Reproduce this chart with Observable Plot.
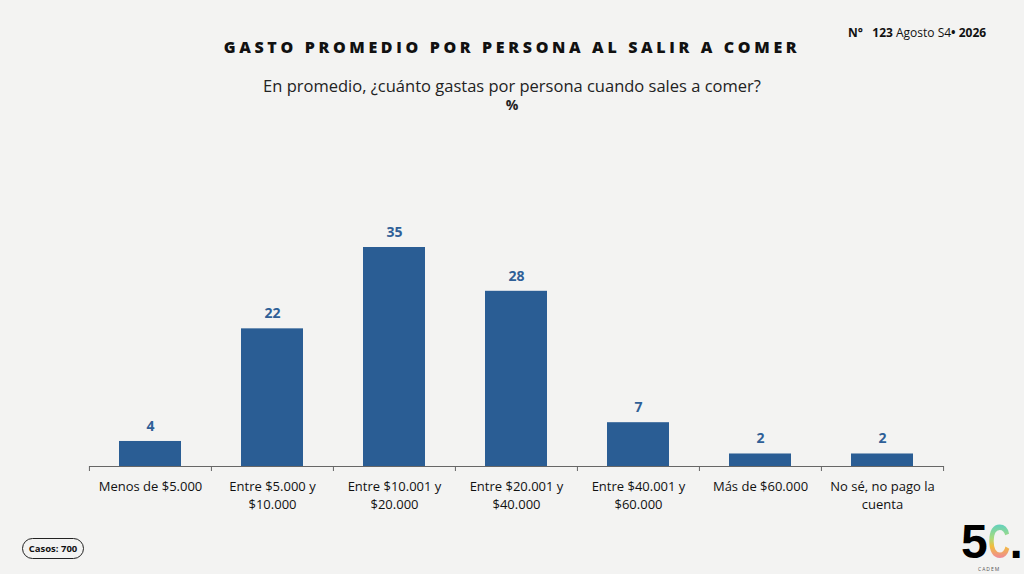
<!DOCTYPE html>
<html>
<head>
<meta charset="utf-8">
<script src="https://cdn.jsdelivr.net/npm/d3@7"></script>
<script src="https://cdn.jsdelivr.net/npm/@observablehq/plot@0.6"></script>
<style>
  html, body { margin: 0; padding: 0; background: #f3f3f2; }
  #wrap { position: relative; width: 1024px; height: 574px; overflow: hidden; font-family: "Open Sans", sans-serif; background: #f3f3f2; }
  #chart { position: absolute; left: 0; top: 0; }
  .abs { position: absolute; white-space: nowrap; }
  #title { left: 0; width: 1024px; top: 36px; text-align: center; font-weight: 800; font-size: 16px; letter-spacing: 3.65px; color: #111; }
  #sub { left: 0; width: 1024px; top: 76px; line-height: 20px; text-align: center; font-size: 16.5px; color: #222; }
  #pct { left: 0; width: 1024px; top: 97px; line-height: 15px; text-align: center; font-size: 14px; font-weight: 700; color: #222; }
  #issue { left: 848px; top: 24px; font-size: 12px; color: #111; }
  #issue b { font-weight: 700; }
  #casos { left: 22px; top: 538px; width: 60px; height: 19px; border: 1px solid #222; border-radius: 11px; font-size: 9.5px; font-weight: 700; line-height: 19px; text-align: center; color: #111; }
  #logo { left: 961px; top: 524px; font-size: 48px; font-weight: 700; line-height: 36px; height: 36px; font-family: "Liberation Sans", sans-serif; color: #000; }
  #logo .c { display: inline-block; transform: scaleX(0.64); transform-origin: left center; margin-right: -13px; background: linear-gradient(180deg, #5fd0c0 0%, #a9dc7c 40%, #f2bd3c 62%, #ee7fa8 100%); -webkit-background-clip: text; background-clip: text; color: transparent; }
  #cadem { left: 978px; top: 566px; font-size: 5px; line-height: 6px; letter-spacing: 1px; color: #555; }
</style>
</head>
<body>
<div id="wrap">
  <div id="chart"></div>
  <div id="title" class="abs">GASTO PROMEDIO POR PERSONA AL SALIR A COMER</div>
  <div id="sub" class="abs">En promedio, ¿cuánto gastas por persona cuando sales a comer?</div>
  <div id="pct" class="abs">%</div>
  <div id="issue" class="abs"><b>N°</b>&nbsp;&nbsp; <b>123</b> Agosto S4<b>•</b> <b>2026</b></div>
  <div id="casos" class="abs">Casos: 700</div>
  <div id="logo" class="abs">5<span class="c">C</span>.</div>
  <div id="cadem" class="abs">CADEM</div>
</div>
<script>
const categories = [
  "Menos de $5.000",
  "Entre $5.000 y\n$10.000",
  "Entre $10.001 y\n$20.000",
  "Entre $20.001 y\n$40.000",
  "Entre $40.001 y\n$60.000",
  "Más de $60.000",
  "No sé, no pago la\ncuenta"
];
const values = [4, 22, 35, 28, 7, 2, 2];

const data = categories.map((c, i) => ({ cat: c, value: values[i] }));

const W = 1024, H = 574;
const mLeft = 89, mRight = 80;
const step = (W - mLeft - mRight) / categories.length;
const barColor = "#2a5d94";

const chart = Plot.plot({
  width: W,
  height: H,
  marginLeft: mLeft,
  marginRight: mRight,
  marginTop: 247,
  marginBottom: 108,
  style: { background: "transparent", fontFamily: "'Open Sans', sans-serif" },
  x: { domain: categories, paddingInner: 0.49, paddingOuter: 0.245, label: null },
  y: { domain: [0, 35], axis: null },
  marks: [
    Plot.barY(data, { x: "cat", y: "value", fill: barColor }),
    Plot.text(data, { x: "cat", y: "value", text: d => String(d.value), dy: -15, fill: "#2f5f97", fontWeight: 700, fontSize: 14 }),
    Plot.ruleY([0], { stroke: "#666", strokeWidth: 1 }),
    Plot.ruleX(categories, { x: d => d, y1: 0, y2: 0, insetBottom: -5, dx: -step / 2, stroke: "#666" }),
    Plot.ruleX([categories[categories.length - 1]], { x: d => d, y1: 0, y2: 0, insetBottom: -5, dx: step / 2, stroke: "#666" }),
    Plot.axisX({ tickSize: 0, tickPadding: 12, fontSize: 13, fill: "#111", lineHeight: 1.38, label: null })
  ]
});
document.getElementById("chart").appendChild(chart);
</script>
</body>
</html>
